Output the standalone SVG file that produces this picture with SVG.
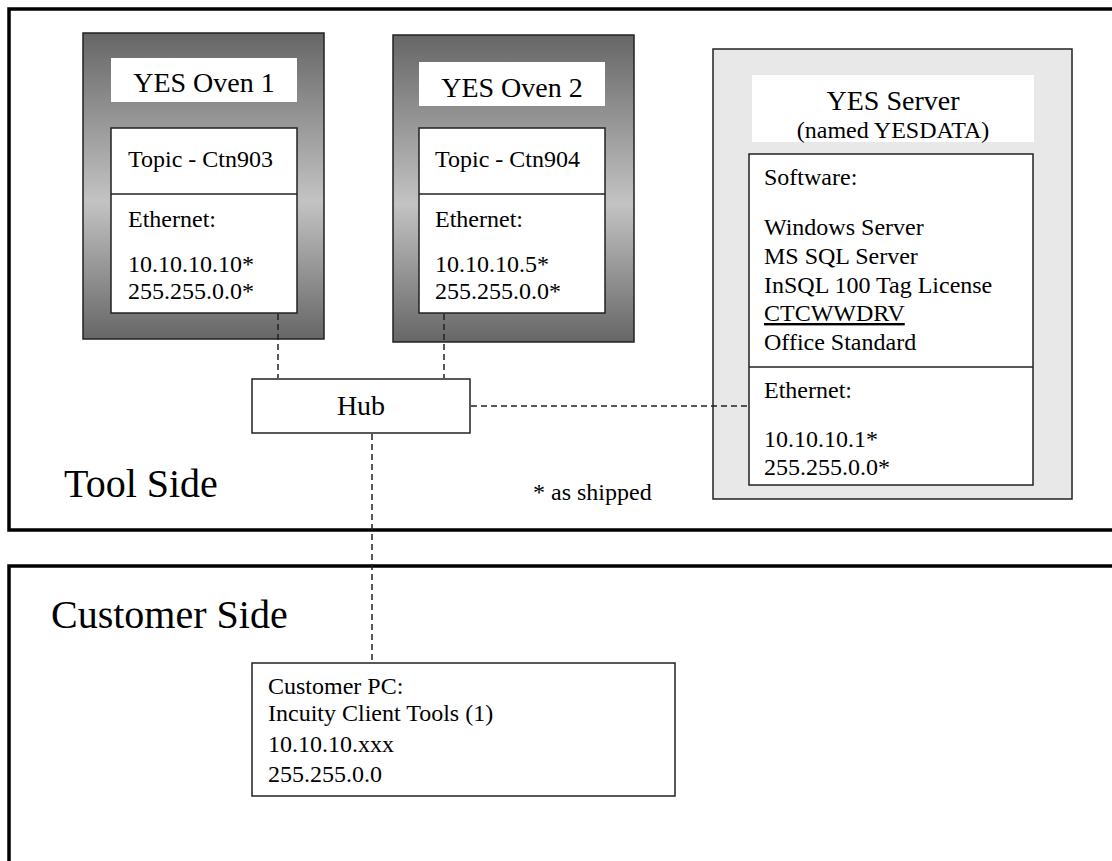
<svg xmlns="http://www.w3.org/2000/svg" width="1112" height="861" viewBox="0 0 1112 861">
<style>
text{font-family:"Liberation Serif","Times New Roman",serif;fill:#000}
.b{font-size:24px}
.t{font-size:28px}
.big{font-size:40px}
.frame{fill:none;stroke:#000;stroke-width:3.5}
.oven{fill:url(#ovg);stroke:#222;stroke-width:1.5}
.wt{fill:#fff;stroke:none}
.box{fill:#fff;stroke:#222;stroke-width:1.5}
.div{stroke:#222;stroke-width:1.5}
.dash{fill:none;stroke:#222;stroke-width:1.5;stroke-dasharray:6 4}
</style>
<defs>
<linearGradient id="ovg" x1="0" y1="0" x2="0" y2="1">
<stop offset="0" stop-color="#666"/>
<stop offset="0.55" stop-color="#c3c3c3"/>
<stop offset="1" stop-color="#666"/>
</linearGradient>
</defs>
<rect width="1112" height="861" fill="#fff"/>
<g id="tool-side">
<rect class="frame" x="9" y="9" width="1200" height="521"/>
<text class="big" x="64" y="497">Tool Side</text>
<text class="b" x="533" y="500">* as shipped</text>
</g>
<g id="customer-side">
<rect class="frame" x="9" y="566" width="1200" height="400"/>
<text class="big" x="51" y="628">Customer Side</text>
</g>
<g id="oven1">
<rect class="oven" x="83" y="33" width="241" height="306"/>
<rect class="wt" x="111" y="58" width="186" height="44"/>
<text class="t" x="204" y="92" text-anchor="middle">YES Oven 1</text>
<rect class="box" x="111" y="128" width="186" height="185"/>
<line class="div" x1="111" y1="194" x2="297" y2="194"/>
<text class="b" x="128" y="167">Topic - Ctn903</text>
<text class="b" x="128" y="227">Ethernet:</text>
<text class="b" x="128" y="272">10.10.10.10*</text>
<text class="b" x="128" y="299">255.255.0.0*</text>
</g>
<g id="oven2">
<rect class="oven" x="393" y="35" width="241" height="307"/>
<rect class="wt" x="419" y="62" width="186" height="44"/>
<text class="t" x="512" y="97" text-anchor="middle">YES Oven 2</text>
<rect class="box" x="419" y="128" width="186" height="185"/>
<line class="div" x1="419" y1="194" x2="605" y2="194"/>
<text class="b" x="435" y="167">Topic - Ctn904</text>
<text class="b" x="435" y="227">Ethernet:</text>
<text class="b" x="435" y="272">10.10.10.5*</text>
<text class="b" x="435" y="299">255.255.0.0*</text>
</g>
<g id="server">
<rect x="713" y="49" width="359" height="450" fill="#e8e8e8" stroke="#222" stroke-width="1.5"/>
<rect class="wt" x="752" y="75" width="282" height="67"/>
<text class="t" x="893" y="110" text-anchor="middle">YES Server</text>
<text class="b" x="893" y="138" text-anchor="middle">(named YESDATA)</text>
<rect class="box" x="749" y="154" width="284" height="331"/>
<line class="div" x1="749" y1="367" x2="1033" y2="367"/>
<text class="b" x="764" y="185">Software:</text>
<text class="b" x="764" y="235">Windows Server</text>
<text class="b" x="764" y="264">MS SQL Server</text>
<text class="b" x="764" y="293">InSQL 100 Tag License</text>
<text class="b" x="764" y="321" text-decoration="underline">CTCWWDRV</text>
<text class="b" x="764" y="350">Office Standard</text>
<text class="b" x="764" y="398">Ethernet:</text>
<text class="b" x="764" y="447">10.10.10.1*</text>
<text class="b" x="764" y="475">255.255.0.0*</text>
</g>
<g id="hub">
<rect class="box" x="252" y="379" width="218" height="54"/>
<text class="t" x="361" y="415" text-anchor="middle">Hub</text>
</g>
<g id="customer-pc">
<rect class="box" x="252" y="663" width="423" height="133"/>
<text class="b" x="268" y="694">Customer PC:</text>
<text class="b" x="268" y="721">Incuity Client Tools (1)</text>
<text class="b" x="268" y="752">10.10.10.xxx</text>
<text class="b" x="268" y="782">255.255.0.0</text>
</g>
<g id="connectors">
<line class="dash" x1="278" y1="314" x2="278" y2="378"/>
<line class="dash" x1="444" y1="314" x2="444" y2="378"/>
<line class="dash" x1="471" y1="406" x2="748" y2="406"/>
<line class="dash" x1="372" y1="434" x2="372" y2="662"/>
</g>
</svg>
